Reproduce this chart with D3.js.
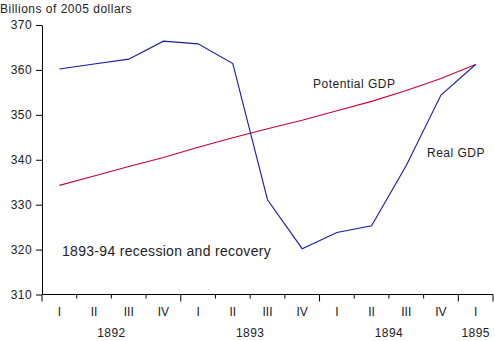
<!DOCTYPE html>
<html><head><meta charset="utf-8">
<script src="https://cdn.jsdelivr.net/npm/d3@7"></script>
<style>body{margin:0;background:#fff}svg{display:block;font-family:"Liberation Sans",Arial,sans-serif}</style>
</head><body><svg id="c" width="495" height="341"></svg>
<script>
const quarters = ["I","II","III","IV","I","II","III","IV","I","II","III","IV","I"];
const years = ["1892","1893","1894","1895"];
const yearQuarterCounts = [4,4,4,1];
const realGDP = [360.2,361.3,362.4,366.4,365.8,361.4,331.1,320.2,323.8,325.3,338.7,354.4,361.2];
const potentialGDP = [334.3,336.4,338.5,340.5,342.8,344.9,346.9,348.8,350.9,353.0,355.4,358.1,361.2];
const yTicks = [310,320,330,340,350,360,370];

const svg = d3.select("#c");
const L = 42, R = 493, T = 25, B = 294.5;
const x = d3.scaleBand().domain(d3.range(quarters.length)).range([L, R]).paddingInner(0).paddingOuter(0);
const y = d3.scaleLinear().domain([310, 370]).range([B, T]);
const cx = i => x(i) + x.bandwidth()/2;

// y axis
const ya = svg.append("g").attr("transform", `translate(${L},0)`)
  .call(d3.axisLeft(y).tickValues(yTicks).tickSize(6).tickPadding(4).tickSizeOuter(0));
ya.select(".domain").attr("stroke","#000");
ya.selectAll("text").attr("font-size",12).attr("fill","#222").attr("letter-spacing",0.4);

// x axis line
svg.append("line").attr("x1",L).attr("x2",R).attr("y1",B).attr("y2",B).attr("stroke","#000");
// ticks at boundaries
const bounds = d3.range(quarters.length + 1);
let cum = [0]; yearQuarterCounts.forEach(c => cum.push(cum[cum.length-1]+c));
bounds.forEach(b => {
  const xp = b < quarters.length ? x(b) : R;
  const major = cum.includes(b);
  svg.append("line").attr("x1",xp).attr("x2",xp).attr("y1",B).attr("y2",B + (major ? 7 : 4)).attr("stroke","#000");
});
svg.selectAll(".ql").data(quarters).join("text").attr("class","ql")
  .attr("x",(d,i)=>cx(i)).attr("y",316).attr("text-anchor","middle").attr("font-size",12).attr("fill","#222").text(d=>d);
svg.selectAll(".yl").data(years).join("text").attr("class","yl")
  .attr("x",(d,i)=>{const a=x(cum[i]); const e=cum[i+1]<quarters.length?x(cum[i+1]):R; return (a+e)/2;})
  .attr("y",337).attr("text-anchor","middle").attr("font-size",12).attr("fill","#222").attr("letter-spacing",0.4).text(d=>d);

const line = d3.line().x((d,i)=>cx(i)).y(d=>y(d));
svg.append("path").datum(potentialGDP).attr("d",line).attr("fill","none").attr("stroke","#cc0033").attr("stroke-width",1.1);
svg.append("path").datum(realGDP).attr("d",line).attr("fill","none").attr("stroke","#1a1aa6").attr("stroke-width",1.1);

svg.append("text").attr("x",0).attr("y",13).attr("font-size",12).attr("letter-spacing",0.5).attr("fill","#222").text("Billions of 2005 dollars");
svg.append("text").attr("x",313).attr("y",88).attr("font-size",12).attr("letter-spacing",0.5).attr("fill","#222").text("Potential GDP");
svg.append("text").attr("x",427).attr("y",157).attr("font-size",12).attr("letter-spacing",0.5).attr("fill","#222").text("Real GDP");
svg.append("text").attr("x",62).attr("y",256).attr("font-size",14).attr("letter-spacing",0.3).attr("fill","#222").text("1893-94 recession and recovery");
</script></body></html>
